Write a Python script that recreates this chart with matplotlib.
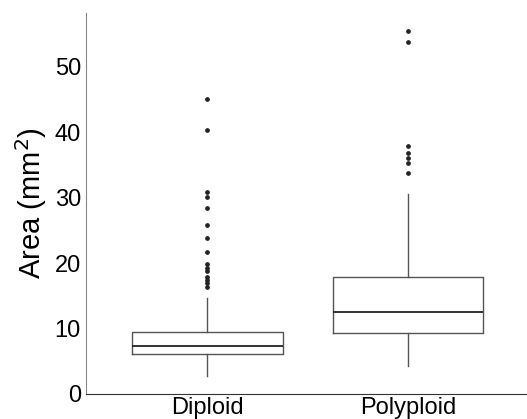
import matplotlib.pyplot as plt

plt.rcParams['font.family'] = ['Liberation Sans', 'DejaVu Sans']

# Box statistics (mm^2)
groups = ['Diploid', 'Polyploid']
q1 = [6.1, 9.3]
median = [7.4, 12.6]
q3 = [9.5, 17.9]
whisker_low = [2.75, 4.2]
whisker_high = [14.6, 30.5]
outliers_diploid = [45.0, 40.3, 30.9, 30.1, 28.4, 25.8, 23.8, 21.7,
                    19.8, 19.3, 18.8, 17.9, 17.4, 16.9, 16.4]
outliers_polyploid = [55.5, 53.8, 37.9, 36.8, 36.0, 35.3, 33.7]

stats = []
for i, g in enumerate(groups):
    stats.append({
        'label': g,
        'q1': q1[i], 'med': median[i], 'q3': q3[i],
        'whislo': whisker_low[i], 'whishi': whisker_high[i],
        'fliers': [outliers_diploid, outliers_polyploid][i],
    })

fig = plt.figure(figsize=(5.27, 4.19), dpi=100)
ax = fig.add_axes([0.164, 0.0597, 0.836, 0.9093])

box_col = '#555555'
ax.bxp(stats, positions=[1, 2], widths=0.75, showcaps=False,
       boxprops=dict(color=box_col, linewidth=1.0),
       whiskerprops=dict(color=box_col, linewidth=1.0),
       medianprops=dict(color='#222222', linewidth=1.3),
       flierprops=dict(marker='o', markersize=2.4, markerfacecolor='#222222',
                       markeredgecolor='#222222', linestyle='none'))

ax.set_xlim(0.3965, 2.5935)
ax.set_ylim(0, 58.2)
ax.set_yticks([0, 10, 20, 30, 40, 50])
ax.tick_params(axis='both', length=0, labelsize=17, colors='black')
ax.tick_params(axis='y', pad=4)
ax.tick_params(axis='x', pad=2)
ax.set_ylabel('Area (mm$^2$)', fontsize=21, labelpad=4)

ax.spines['top'].set_visible(False)
ax.spines['right'].set_visible(False)
ax.spines['left'].set_color('#888888')
ax.spines['bottom'].set_color('#333333')

fig.savefig('out.png', dpi=100)
